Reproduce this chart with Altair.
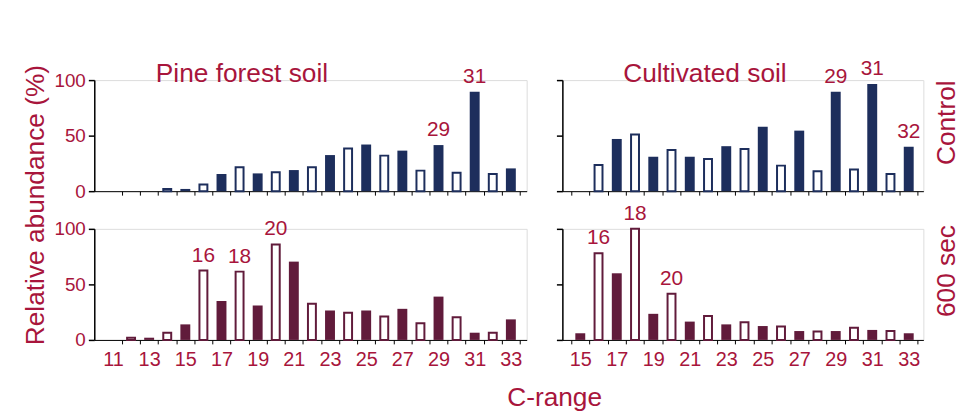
import altair as alt
import pandas as pd

# Pine forest soil, Control
tl_c = list(range(14, 34))
tl_v = [2, 2, 6, 15.5, 21.5, 16, 17, 19, 21.5, 32.5, 38.5, 42, 32, 36.5, 18.5, 41.5, 16.5, 89.5, 15.5, 20.5]
# Cultivated soil, Control
tr_c = list(range(16, 34))
tr_v = [23.5, 47, 51, 31, 37, 31, 29, 40.5, 38, 58, 23, 54.5, 18, 89.5, 19.5, 96.5, 15.5, 40]
# Pine forest soil, 600 sec
bl_c = list(range(12, 34))
bl_v = [2, 2, 6.5, 14, 62.5, 35, 61.5, 31, 86, 70.5, 32.5, 26.5, 24.5, 26.5, 21, 28, 15, 39, 20.5, 6.5, 6.5, 18.5]
# Cultivated soil, 600 sec
br_c = list(range(15, 34))
br_v = [6, 78, 60, 100, 23.5, 41.5, 16.5, 21.5, 14, 16, 12.5, 12, 8, 7.5, 8, 11, 9, 8, 6]

# peak annotations (bar position, label)
tl_ann_c = [29, 31]
tl_ann_t = ["29", "31"]
tr_ann_c = [29, 31, 33]
tr_ann_t = ["29", "31", "32"]
bl_ann_c = [16, 18, 20]
bl_ann_t = ["16", "18", "20"]
br_ann_c = [16, 18, 20]
br_ann_t = ["16", "18", "20"]

left_ticks = [x / 2 for x in range(22, 68)]   # 11 .. 33.5
right_ticks = [x / 2 for x in range(29, 68)]  # 14.5 .. 33.5

NAVY = "#1d2e5c"
MAROON = "#611b3b"
RED = "#a8153c"
FONT = "Liberation Sans"


def panel(cs, vs, color, domain, ticks, ann_c, ann_t, extras, xlabels, ylabels, width):
    df = pd.DataFrame({"C": cs, "v": vs})
    df["odd"] = df["C"] % 2 == 1
    xaxis = alt.Axis(
        values=ticks,
        labels=xlabels,
        labelExpr="datum.value % 2 == 1 ? '' + datum.value : ''",
        tickOpacity={"condition": {"test": "datum.value % 1 != 0", "value": 1}, "value": 0},
        tickSize=4,
        labelPadding=6,
        title=None,
        grid=False,
        labelFontSize=20,
    )
    yaxis = alt.Axis(
        values=[0, 50, 100],
        labels=ylabels,
        tickSize=6,
        labelPadding=3,
        title=None,
        grid=False,
        labelFontSize=19,
        domainWidth=1.5,
        tickWidth=1.5,
    )
    x = alt.X("C:Q", scale=alt.Scale(domain=domain, nice=False, zero=False), axis=xaxis)
    y = alt.Y("v:Q", scale=alt.Scale(domain=[0, 100], nice=False, zero=True), axis=yaxis)

    filled = alt.Chart(df).transform_filter("datum.odd").mark_bar(size=10, color=color).encode(x=x, y=y)
    hollow = alt.Chart(df).transform_filter("!datum.odd").mark_bar(
        size=8, fill="white", stroke=color, strokeWidth=2
    ).encode(x=x, y=y)

    adf = df[df["C"].isin(ann_c)][["C", "v"]].copy()
    adf["t"] = [ann_t[ann_c.index(c)] for c in adf["C"]]
    ann = alt.Chart(adf).mark_text(
        dy=-9, fontSize=21, color=RED, baseline="alphabetic", align="center"
    ).encode(x=x, y=y, text="t:N")

    layers = [filled, hollow, ann]
    for (c, v, t, angle, baseline) in extras:
        edf = pd.DataFrame({"C": [c], "v": [v], "t": [t]})
        layers.append(
            alt.Chart(edf).mark_text(
                angle=angle, fontSize=26.5, color=RED, baseline=baseline, align="center"
            ).encode(x=x, y=y, text="t:N")
        )
    return alt.layer(*layers).properties(width=width, height=112)


LD = [10.24, 33.6]
RD = [14.29, 33.53]

tl = panel(tl_c, tl_v, NAVY, LD, left_ticks, tl_ann_c, tl_ann_t,
           [(18.13, 98.7, "Pine forest soil", 0, "alphabetic")], False, True, 436)
tr = panel(tr_c, tr_v, NAVY, RD, right_ticks, tr_ann_c, tr_ann_t,
           [(21.83, 98.7, "Cultivated soil", 0, "alphabetic"),
            (35.11, 61.6, "Control", 270, "middle")], False, False, 364)
bl = panel(bl_c, bl_v, MAROON, LD, left_ticks, bl_ann_c, bl_ann_t,
           [(6.73, 121.4, "Relative abundance (%)", 270, "middle"),
            (35.42, -59.8, "C-range", 0, "alphabetic")], True, True, 436)
br = panel(br_c, br_v, MAROON, RD, right_ticks, br_ann_c, br_ann_t,
           [(35.11, 62, "600 sec", 270, "middle")], True, False, 364)

chart = alt.concat(
    tl, tr, bl, br,
    columns=2,
    spacing={"row": 38, "column": 36},
    bounds="flush",
).properties(
    autosize=alt.AutoSizeParams(type="none"),
    padding={"left": 87, "top": 71, "right": 879, "bottom": 336},
).configure_view(stroke=None).configure(
    font=FONT
).configure_axis(
    labelColor=RED,
    labelFont=FONT,
    domainColor="#000000",
    tickColor="#000000",
    grid=False,
).configure_text(font=FONT)

chart.save("out.html", embed_options={"renderer": "svg", "actions": False})
